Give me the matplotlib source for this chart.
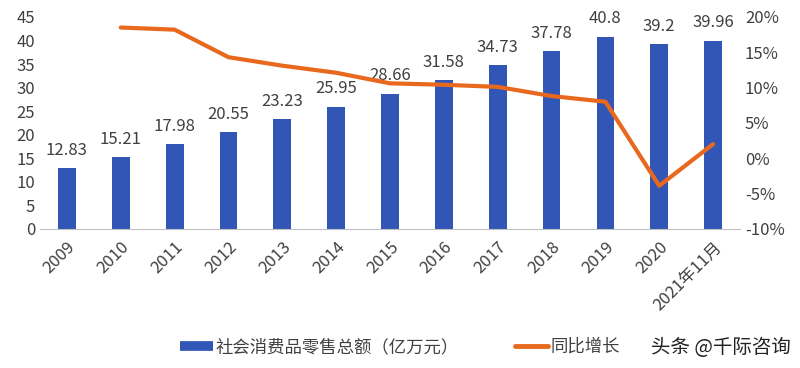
import numpy as np
import matplotlib.pyplot as plt
from matplotlib.lines import Line2D
from matplotlib.ticker import FuncFormatter

plt.rcParams['font.family'] = ['Noto Sans CJK SC', 'DejaVu Sans']

# data
years = ['2009', '2010', '2011', '2012', '2013', '2014', '2015', '2016',
         '2017', '2018', '2019', '2020', '2021年11月']
retail_total = [12.83, 15.21, 17.98, 20.55, 23.23, 25.95, 28.66, 31.58,
                34.73, 37.78, 40.8, 39.2, 39.96]
# yoy growth (%), no value for 2009
yoy_growth = [np.nan, 18.5, 18.2, 14.3, 13.1, 12.1, 10.6, 10.4,
              10.1, 8.8, 8.0, -3.9, 2.0]

bar_color = '#3156B6'
line_color = '#E8691E'
text_color = '#404040'

fig = plt.figure(figsize=(8, 3.68), dpi=100)
ax = fig.add_axes([0.05, 0.378, 0.875, 0.576])
x = np.arange(len(years))

ax.bar(x, retail_total, width=0.33, color=bar_color, zorder=2)
for xi, v in zip(x, retail_total):
    ax.text(xi, v + 2.0, f'{v:g}', ha='center', va='bottom',
            fontsize=12, color=text_color)

ax.set_ylim(0, 45)
ax.set_yticks(range(0, 46, 5))
ax.set_xlim(-0.5, len(years) - 0.5)
ax.set_xticks(x)
ax.set_xticklabels(years, rotation=45, ha='right', rotation_mode='anchor')
ax.tick_params(axis='both', length=0, labelsize=12, colors=text_color)
ax.tick_params(axis='x', pad=7)
for s in ['top', 'right', 'left']:
    ax.spines[s].set_visible(False)
ax.spines['bottom'].set_color('#BFBFBF')

ax2 = ax.twinx()
ax2.plot(x, yoy_growth, color=line_color, linewidth=3,
         solid_capstyle='round', solid_joinstyle='round', zorder=3)
ax2.set_ylim(-10, 20)
ax2.set_yticks(range(-10, 21, 5))
ax2.yaxis.set_major_formatter(FuncFormatter(lambda v, p: f'{v:.0f}%'))
ax2.tick_params(axis='both', length=0, labelsize=12, colors=text_color)
for s in ax2.spines.values():
    s.set_visible(False)

handles = [Line2D([0], [0], color=bar_color, linewidth=7, solid_capstyle='butt'),
           Line2D([0], [0], color=line_color, linewidth=3.5, solid_capstyle='round')]
fig.legend(handles, ['社会消费品零售总额（亿万元）', '同比增长'],
           loc='center', bbox_to_anchor=(0.5, 0.057), ncol=2, frameon=False,
           fontsize=12.5, handlelength=1.9, handletextpad=0.15, columnspacing=3.2,
           labelcolor=text_color)

fig.text(0.988, 0.057, '头条 @千际咨询', ha='right', va='center',
         fontsize=14, color='#222222')

fig.savefig('out.png', dpi=100)
